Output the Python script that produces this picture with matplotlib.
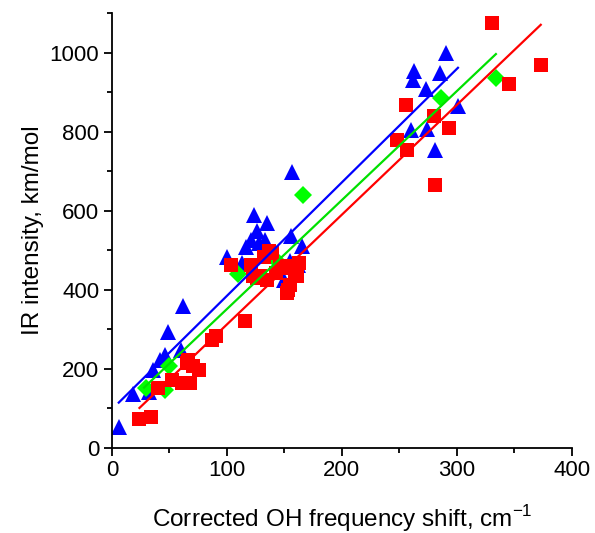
import matplotlib.pyplot as plt
import numpy as np
from matplotlib.ticker import MultipleLocator

plt.rcParams['font.family'] = ['Liberation Sans', 'DejaVu Sans']
plt.rcParams['mathtext.fontset'] = 'custom'
plt.rcParams['mathtext.rm'] = 'Liberation Sans'

# blue triangles
blue_x = [6, 18, 32, 36, 42, 46, 49, 60, 62, 100, 113, 117, 121, 124, 126, 128, 133, 135,
          150, 155, 156, 157, 162, 165, 260, 262, 263, 273, 274, 281, 285, 291, 301]
blue_y = [53, 135, 140, 197, 222, 235, 292, 248, 360, 482, 468, 508, 527, 590, 548, 518, 527, 570,
          425, 472, 535, 698, 463, 510, 805, 932, 953, 908, 807, 754, 949, 999, 866]

# green diamonds
green_x = [30, 46, 50, 110, 143, 166, 286, 334]
green_y = [151, 147, 206, 440, 476, 640, 885, 936]

# red squares
red_x = [24, 34, 40, 52, 61, 65, 66, 68, 71, 76, 87, 91, 104, 116, 121, 123, 126, 129, 132,
         135, 137, 139, 143, 146, 148, 152, 153, 155, 156, 159, 161, 163,
         248, 256, 257, 280, 281, 293, 331, 345, 373]
red_y = [73, 79, 151, 172, 164, 214, 223, 164, 206, 197, 273, 284, 462, 320, 462, 434, 430, 434, 484,
         425, 497, 493, 442, 459, 455, 392, 400, 413, 459, 434, 434, 468,
         780, 868, 754, 841, 666, 809, 1075, 922, 968]

# linear fits: slope, intercept, x range
blue_fit = [2.874, 97, 6, 301]
green_fit = [2.76, 75, 28, 334]
red_fit = [2.78, 34, 24, 373]

fig = plt.figure(figsize=(5.95, 5.33), dpi=100)
ax = fig.add_axes([0.188, 0.16, 0.773, 0.815])

ax.plot(blue_x, blue_y, '^', color='#0000ff', markersize=11.5, markeredgewidth=0, zorder=2)
ax.plot(green_x, green_y, 'D', color='#00ff00', markersize=9.5, markeredgewidth=0, zorder=3)
ax.plot(red_x, red_y, 's', color='#ff0000', markersize=9.8, markeredgewidth=0, zorder=4)

for fit, c in [(blue_fit, '#0000ff'), (green_fit, '#00e000'), (red_fit, '#ff0000')]:
    xs = np.array([fit[2], fit[3]])
    ax.plot(xs, fit[0] * xs + fit[1], '-', color=c, linewidth=1.6, zorder=5)

ax.set_xlim(0, 400)
ax.set_ylim(0, 1100)
ax.xaxis.set_major_locator(MultipleLocator(100))
ax.xaxis.set_minor_locator(MultipleLocator(50))
ax.yaxis.set_major_locator(MultipleLocator(200))
ax.yaxis.set_minor_locator(MultipleLocator(100))
ax.spines['top'].set_visible(False)
ax.spines['right'].set_visible(False)
for s in ['left', 'bottom']:
    ax.spines[s].set_linewidth(1.3)
ax.tick_params(which='major', direction='out', length=6, width=1.3, labelsize=16, pad=3)
ax.tick_params(which='minor', direction='out', length=3.5, width=1.3)

ax.set_xlabel(r'Corrected OH frequency shift, cm$^{\mathregular{-1}}$', fontsize=17.5, labelpad=16)
ax.set_ylabel('IR intensity, km/mol', fontsize=17.5, labelpad=4)

fig.savefig('out.png', dpi=100)
